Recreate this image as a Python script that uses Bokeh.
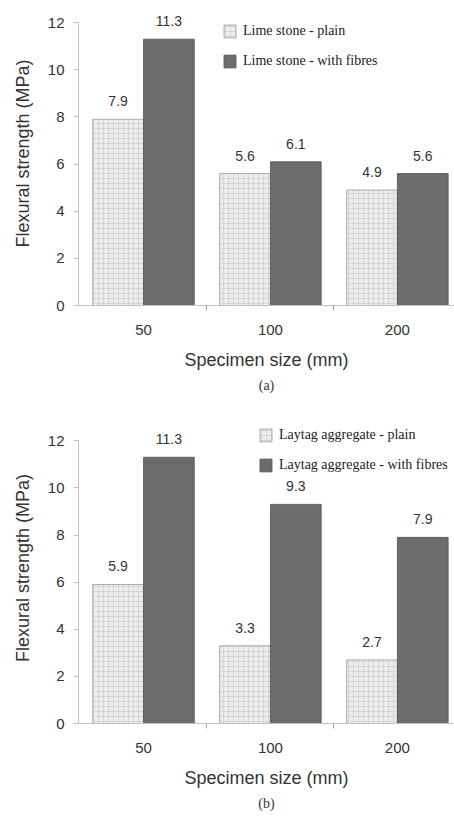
from bokeh.plotting import figure
from bokeh.layouts import column
from bokeh.models import FixedTicker, Title, Legend, LegendItem
from bokeh.embed import file_html
from bokeh.resources import INLINE

sizes = ["50", "100", "200"]
limestone_plain = [7.9, 5.6, 4.9]
limestone_fibres = [11.3, 6.1, 5.6]
laytag_plain = [5.9, 3.3, 2.7]
laytag_fibres = [11.3, 9.3, 7.9]
labels_a = ["Lime stone - plain", "Lime stone - with fibres"]
labels_b = ["Laytag aggregate - plain", "Laytag aggregate - with fibres"]
y_ticks = [0, 2, 4, 6, 8, 10, 12]

SANS = "Liberation Sans"
SERIF = "Liberation Serif"
PX_PER_UNIT = 283 / 12.0


def make_panel(plain, fibres, labels, tag, y_top, bottom_border, legend_xy):
    frame_h = int(round(y_top * PX_PER_UNIT))
    top_border = 408 - bottom_border - frame_h
    centers = [i + 0.5 for i in range(len(sizes))]
    p = figure(width=454, height=408,
               frame_width=376, frame_height=frame_h,
               min_border_left=78, min_border_right=0,
               min_border_top=top_border, min_border_bottom=bottom_border,
               x_range=(-0.012, 2.95), y_range=(0, y_top),
               output_backend="svg", toolbar_location=None)
    p.outline_line_color = None
    p.grid.visible = False
    p.background_fill_color = "white"
    p.border_fill_color = "white"

    xp = [c - 0.2 for c in centers]
    xf = [c + 0.2 for c in centers]
    r1 = p.vbar(x=xp, top=plain, width=0.4, fill_color="#ededed",
                line_color="#9a9a9a", line_width=0.8,
                hatch_pattern="+", hatch_color="#c8c8c8", hatch_scale=5,
                hatch_weight=0.6)
    r2 = p.vbar(x=xf, top=fibres, width=0.4, fill_color="#6c6c6c",
                line_color="#555555", line_width=0.8)

    p.text(x=xp, y=plain, text=[f"{v:.1f}" for v in plain],
           text_align="center", text_baseline="middle", y_offset=-18,
           text_font_size="14px", text_color="#333333", text_font={"value": SANS})
    p.text(x=xf, y=fibres, text=[f"{v:.1f}" for v in fibres],
           text_align="center", text_baseline="middle", y_offset=-18,
           text_font_size="14px", text_color="#333333", text_font={"value": SANS})

    # y axis
    ya = p.yaxis[0]
    ya.ticker = FixedTicker(ticks=y_ticks)
    ya.bounds = (0, 12)
    ya.axis_line_color = "#c0c0c0"
    ya.major_tick_line_color = "#c0c0c0"
    ya.major_tick_in = 0
    ya.major_tick_out = 5
    ya.minor_tick_line_color = None
    ya.major_label_standoff = 9
    ya.major_label_text_font = SANS
    ya.major_label_text_font_size = "15px"
    ya.major_label_text_color = "#333333"
    ya.axis_label = "Flexural strength (MPa)"
    ya.axis_label_text_font = SANS
    ya.axis_label_text_font_size = "18px"
    ya.axis_label_text_font_style = "normal"
    ya.axis_label_text_color = "#333333"
    ya.axis_label_standoff = 12

    # x axis
    xa = p.xaxis[0]
    xa.ticker = FixedTicker(ticks=centers, minor_ticks=[1, 2])
    xa.major_label_overrides = {c: s for c, s in zip(centers, sizes)}
    xa.axis_line_color = "#c0c0c0"
    xa.major_tick_line_color = None
    xa.major_tick_in = 0
    xa.major_tick_out = 0
    xa.minor_tick_line_color = "#a0a0a0"
    xa.minor_tick_in = 0
    xa.minor_tick_out = 5
    xa.major_label_standoff = 14
    xa.major_label_text_font = SANS
    xa.major_label_text_font_size = "15px"
    xa.major_label_text_color = "#333333"
    xa.axis_label = "Specimen size (mm)"
    xa.axis_label_text_font = SANS
    xa.axis_label_text_font_size = "18px"
    xa.axis_label_text_font_style = "normal"
    xa.axis_label_text_color = "#333333"
    xa.axis_label_standoff = 12

    p.add_layout(Title(text=tag, align="center", text_font=SERIF,
                       text_font_size="14px", text_font_style="normal",
                       text_color="#333333", standoff=6), "below")

    legend = Legend(items=[LegendItem(label=labels[0], renderers=[r1]),
                           LegendItem(label=labels[1], renderers=[r2])],
                    location=legend_xy, background_fill_alpha=0,
                    border_line_color=None, padding=0, margin=0, spacing=14,
                    glyph_width=15, glyph_height=16, label_standoff=6,
                    label_text_font=SERIF, label_text_font_size="14px",
                    label_text_color="#222222", label_height=16)
    p.add_layout(legend)
    return p


p1 = make_panel(limestone_plain, limestone_fibres, labels_a, "(a)", 12.9, 103, (144, 236))
p2 = make_panel(laytag_plain, laytag_fibres, labels_b, "(b)", 13.2, 93, (180, 250))

layout = column(p1, p2, spacing=0)
open("out.html", "w").write(file_html(layout, INLINE))
